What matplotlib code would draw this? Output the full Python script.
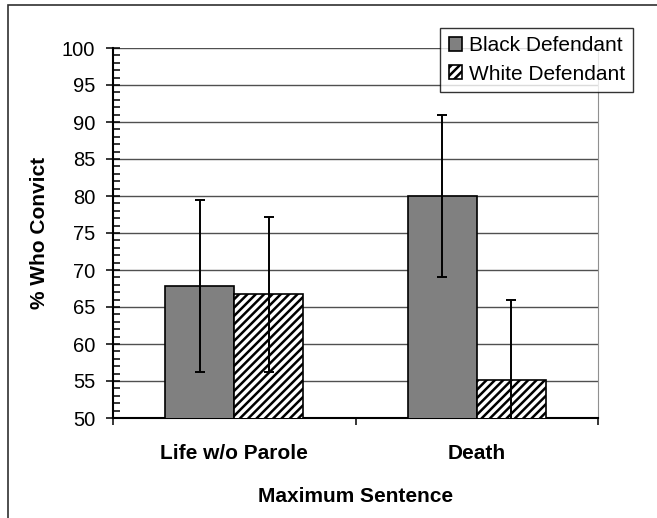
import numpy as np
import matplotlib
matplotlib.use('Agg')
import matplotlib.pyplot as plt
from matplotlib.patches import Rectangle

plt.rcParams['font.family'] = ['Liberation Sans', 'DejaVu Sans']
plt.rcParams['hatch.linewidth'] = 1.8

# data
categories = ['Life w/o Parole', 'Death']
black_vals = [67.8, 80.0]
white_vals = [66.7, 55.2]
black_err = [11.6, 11.0]
white_err = [10.5, 10.8]
series_names = ['Black Defendant', 'White Defendant']

W, H = 657, 518
fig = plt.figure(figsize=(W / 100, H / 100), dpi=100)
ax = fig.add_axes([113 / W, 1 - 418 / H, (598 - 113) / W, (418 - 48) / H])

x = np.arange(len(categories)) + 0.5
bw = 0.285

b1 = ax.bar(x - bw / 2, black_vals, bw, color='#808080', edgecolor='black',
            linewidth=1.2, zorder=3, label=series_names[0])
b2 = ax.bar(x + bw / 2, white_vals, bw, color='white', edgecolor='black',
            hatch='////', linewidth=1.2, zorder=3, label=series_names[1])
ax.errorbar(x - bw / 2, black_vals, yerr=black_err, fmt='none', ecolor='black',
            elinewidth=1.4, capsize=3.6, capthick=1.4, zorder=4)
ax.errorbar(x + bw / 2, white_vals, yerr=white_err, fmt='none', ecolor='black',
            elinewidth=1.4, capsize=3.6, capthick=1.4, zorder=4)

ax.set_xlim(0, len(categories))
ax.set_ylim(50, 100)
ax.set_yticks(np.arange(50, 101, 5))
ax.set_yticks(np.arange(50, 101, 1), minor=True)
ax.tick_params(axis='y', which='major', direction='inout', length=9.4, width=1.1,
               labelsize=14.5, pad=8)
ax.tick_params(axis='y', which='minor', direction='in', length=5, width=1.1)

ax.set_xticks(np.arange(len(categories) + 1))
ax.set_xticklabels([])
ax.set_xticks(x, minor=True)
ax.set_xticklabels(categories, minor=True, fontsize=15, fontweight='bold')
ax.tick_params(axis='x', which='major', direction='out', length=5, width=1.1)
ax.tick_params(axis='x', which='minor', length=0, pad=19)

ax.grid(axis='y', which='major', color='#505050', linewidth=1, zorder=0)
ax.set_axisbelow(True)
ax.spines['top'].set_visible(False)
ax.spines['right'].set_color('#909090')
ax.spines['right'].set_linewidth(0.8)
ax.spines['left'].set_linewidth(1.5)
ax.spines['bottom'].set_linewidth(1.5)

ax.set_ylabel('% Who Convict', fontsize=15, fontweight='bold', labelpad=9)
ax.set_xlabel('Maximum Sentence', fontsize=15, fontweight='bold', labelpad=17)

leg = fig.legend(handles=[b1, b2], loc='upper right',
                 bbox_to_anchor=(633 / W, 1 - 28 / H), fontsize=15,
                 frameon=True, fancybox=False, shadow=False,
                 handlelength=0.65, handleheight=0.65, handletextpad=0.3,
                 labelspacing=0.45, borderpad=0.4, borderaxespad=0)
leg.get_frame().set_edgecolor('black')
leg.get_frame().set_linewidth(1.0)

# outer chart border
fig.patches.append(Rectangle((8 / W, -0.1), 1.2, (1 - 5 / H) + 0.1,
                             transform=fig.transFigure, fill=False,
                             edgecolor='#303030', linewidth=1.2))

fig.savefig('out.png', dpi=100)
